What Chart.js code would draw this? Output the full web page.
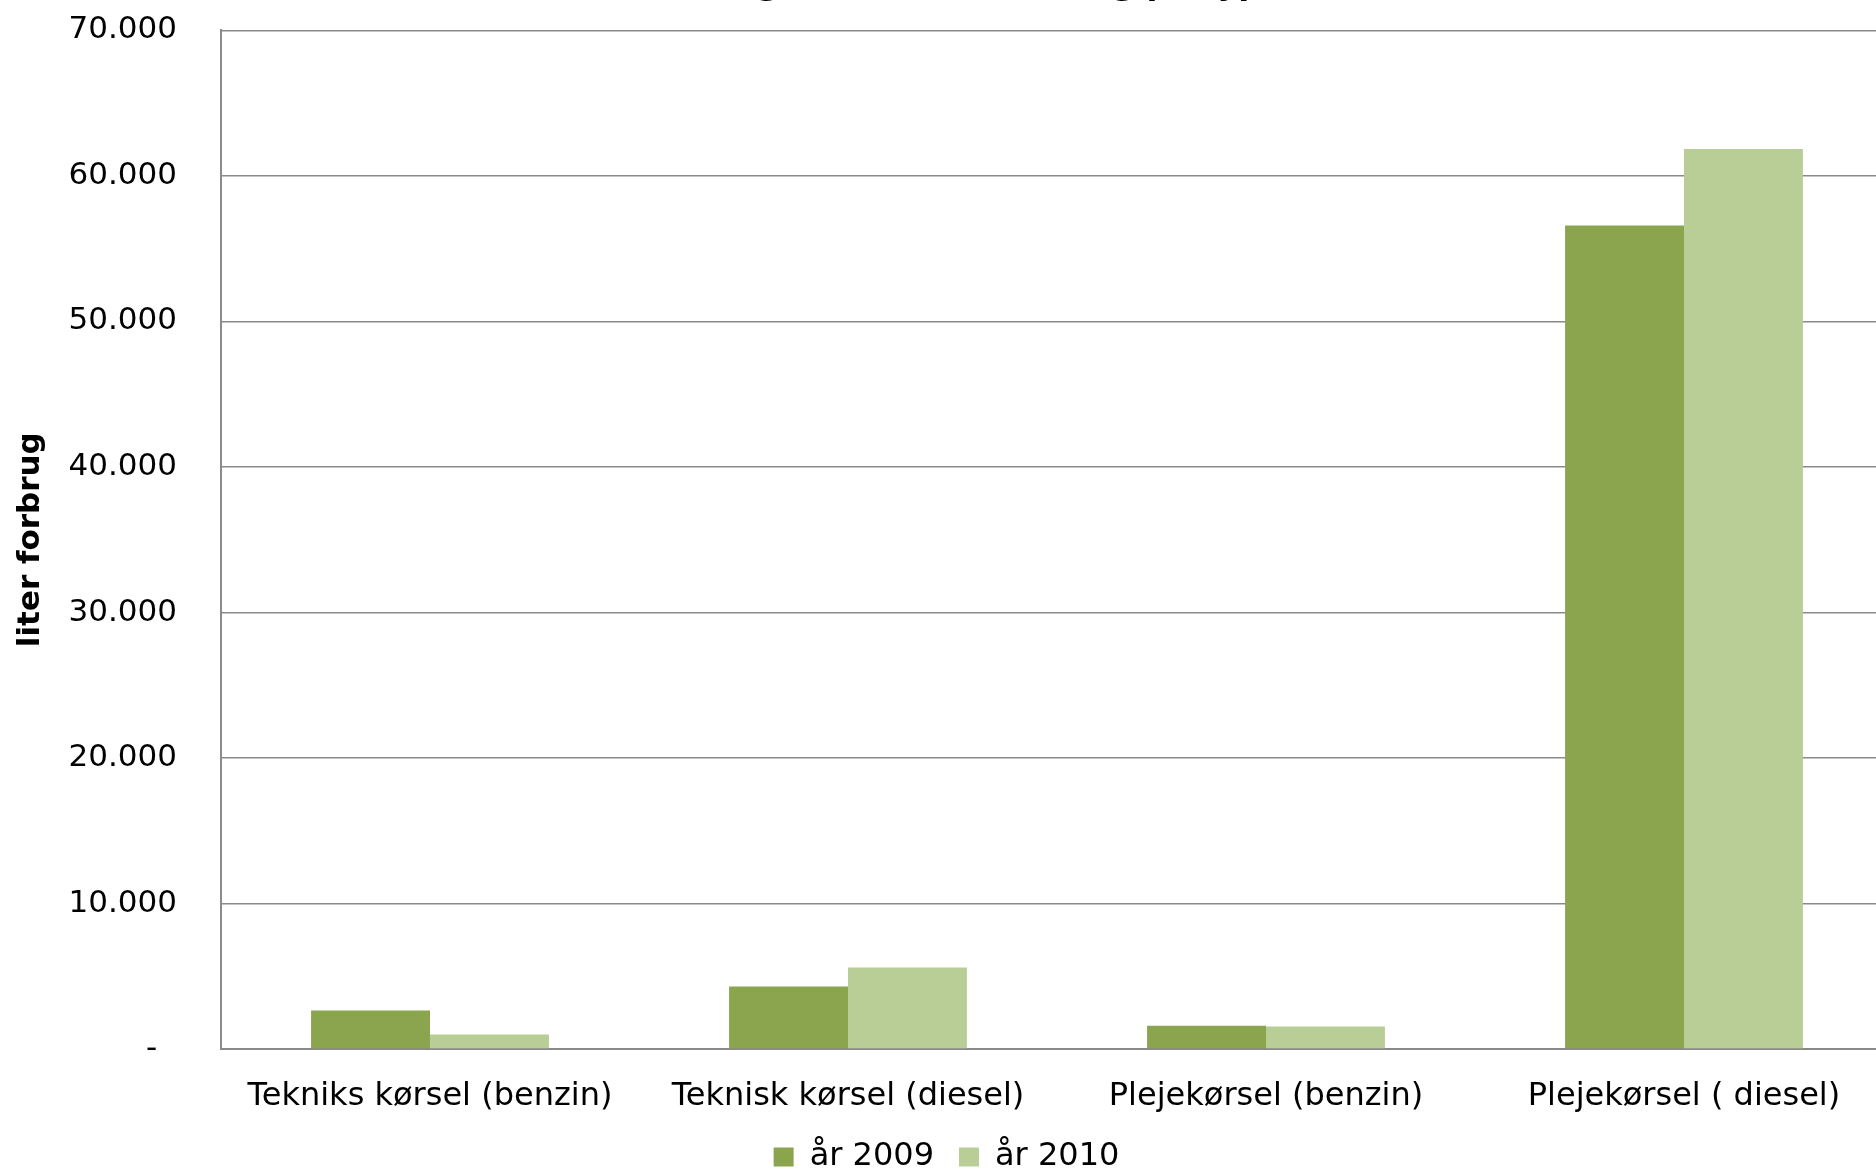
<!DOCTYPE html>
<html>
<head>
<meta charset="utf-8">
<script src="https://cdn.jsdelivr.net/npm/chart.js@4/dist/chart.umd.min.js"></script>
<style>
  html, body { margin: 0; padding: 0; background: #fff; overflow: hidden; width: 1876px; height: 1171px; }
  #wrap { position: absolute; left: 0; top: -50px; width: 1906px; height: 1233px; }
</style>
</head>
<body>
<div id="wrap"><canvas id="c"></canvas></div>
<script>
// Fuel consumption (litres) per driving type, 2009 vs 2010
const categories = ['Tekniks kørsel (benzin)', 'Teknisk kørsel (diesel)', 'Plejekørsel (benzin)', 'Plejekørsel ( diesel)'];
const seriesNames = ['år 2009', 'år 2010'];
const values2009 = [2650, 4300, 1600, 56600];
const values2010 = [1000, 5600, 1550, 61850];
const yTickValues = [0, 10000, 20000, 30000, 40000, 50000, 60000, 70000];
const yTickLabels = ['-  ', '10.000', '20.000', '30.000', '40.000', '50.000', '60.000', '70.000'];
const chartTitle = 'Udvikling i brændstofforbrug på type';
const yAxisTitle = 'liter forbrug';

const FONT = 'DejaVu Sans';
Chart.defaults.font.family = FONT;
Chart.defaults.color = '#000';

new Chart(document.getElementById('c'), {
  type: 'bar',
  data: {
    labels: categories,
    datasets: [
      { label: seriesNames[0], data: values2009, backgroundColor: '#8aa54e' },
      { label: seriesNames[1], data: values2010, backgroundColor: '#b9ce96' }
    ]
  },
  options: {
    responsive: true,
    maintainAspectRatio: false,
    animation: false,
    layout: { padding: { left: 0, right: 13, top: 0, bottom: 0 } },
    datasets: { bar: { categoryPercentage: 0.569, barPercentage: 1.0, borderWidth: 0 } },
    plugins: {
      title: {
        display: true,
        text: chartTitle,
        font: { family: FONT, size: 32, weight: 'bold' },
        color: '#000',
        padding: { top: 16, bottom: 26 }
      },
      legend: {
        position: 'bottom',
        labels: {
          boxWidth: 20,
          boxHeight: 19,
          padding: 25,
          font: { family: FONT, size: 32 },
          color: '#000'
        }
      },
      tooltip: { enabled: false }
    },
    scales: {
      x: {
        grid: { display: false, drawTicks: false },
        border: { display: true, color: '#8a8a8a', width: 2 },
        ticks: { font: { family: FONT, size: 32 }, color: '#000', padding: 28, maxRotation: 0, autoSkip: false },
        afterFit: (axis) => { axis.height = 67; }
      },
      y: {
        min: 0,
        max: 70000,
        afterBuildTicks: (axis) => { axis.ticks = yTickValues.map(v => ({ value: v })); },
        grid: { color: '#8a8a8a', lineWidth: 1.6, drawTicks: false },
        border: { display: true, color: '#8a8a8a', width: 2 },
        ticks: {
          font: { family: FONT, size: 31 },
          color: '#000',
          padding: 44,
          callback: (value) => yTickLabels[yTickValues.indexOf(value)]
        },
        title: {
          display: true,
          text: yAxisTitle,
          font: { family: FONT, size: 31, weight: 'bold' },
          color: '#000',
          padding: { top: 12, bottom: 22 }
        },
        afterFit: (axis) => { axis.width = 221; }
      }
    }
  }
});
</script>
</body>
</html>
